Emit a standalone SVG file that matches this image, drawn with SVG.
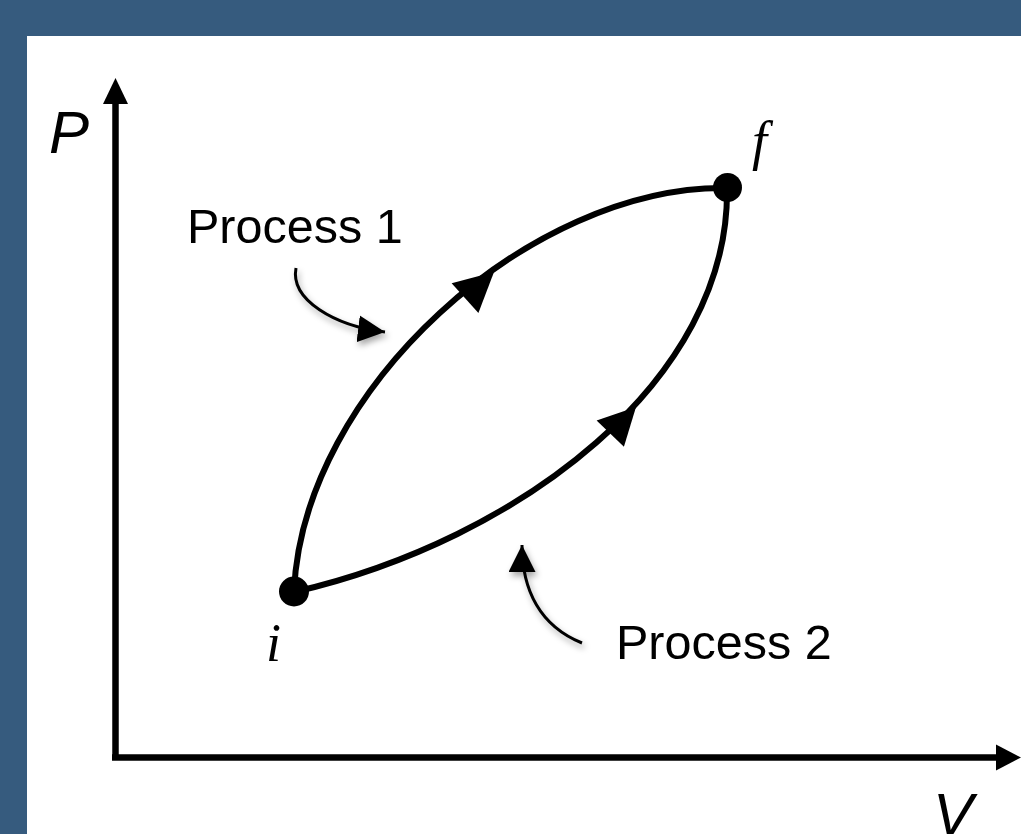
<svg xmlns="http://www.w3.org/2000/svg" xmlns:xlink="http://www.w3.org/1999/xlink" width="1021" height="834" viewBox="0 0 1021 834">
  <style>
    .axis { stroke: #000; stroke-width: 6.5; fill: none; }
    .curve { stroke: #000; stroke-width: 6; fill: none; }
    .pointer { stroke: #000; stroke-width: 3; fill: none; }
    .label { font-family: "Liberation Sans", Arial, sans-serif; font-size: 48.5px; fill: #000; }
    .axislabel { font-family: "Liberation Sans", Arial, sans-serif; font-style: italic; font-size: 60px; fill: #000; }
    .statelabel { font-family: "Liberation Serif", "Times New Roman", serif; font-style: italic; font-size: 54px; fill: #000; }
    .dot { fill: #000; }
  </style>
  <defs>
    <polygon id="head" points="0,0 -39,-20 -39,20" fill="#000"/>
    <marker id="ptr" viewBox="0 0 10 10" refX="10" refY="5" markerWidth="9" markerHeight="9" markerUnits="strokeWidth" orient="auto">
      <path d="M0,0 L10,5 L0,10 Z" fill="#000"/>
    </marker>
    <filter id="shadow" x="-20%" y="-20%" width="140%" height="140%">
      <feDropShadow dx="2" dy="4" stdDeviation="3" flood-color="#000" flood-opacity="0.35"/>
    </filter>
  </defs>

  <rect x="0" y="0" width="1021" height="834" fill="#365b7e"/>
  <rect x="27" y="36" width="994" height="798" fill="#ffffff"/>

  <g id="axes">
    <path class="axis" d="M115.5,757.5 L115.5,100"/>
    <polygon points="115.5,78 103,104 128,104" fill="#000"/>
    <path class="axis" d="M112,757.5 L1000,757.5"/>
    <polygon points="1021,757.5 996,744.5 996,770.5" fill="#000"/>
    <text class="axislabel" x="49" y="153">P</text>
    <text class="axislabel" x="933" y="835">V</text>
  </g>

  <g id="connectors">
    <path id="process1" class="curve" d="M294,592 C302,390 530,185 727,188"/>
    <use xlink:href="#head" href="#head" transform="translate(494,272) rotate(-42)"/>
    <path id="process2" class="curve" d="M294,592 C520,540 730,380 727,188"/>
    <use xlink:href="#head" href="#head" transform="translate(636,407) rotate(-46) scale(0.95)"/>
    <g filter="url(#shadow)">
      <path class="pointer" d="M296,268 C290,300 335,326 385,332" marker-end="url(#ptr)"/>
      <path class="pointer" d="M582,643 C540,626 522,590 522,545" marker-end="url(#ptr)"/>
    </g>
  </g>

  <g id="node-i">
    <circle class="dot" cx="294" cy="591.5" r="15"/>
    <text class="statelabel" x="266" y="661">i</text>
  </g>
  <g id="node-f">
    <circle class="dot" cx="727.5" cy="187.5" r="14.5"/>
    <text class="statelabel" x="752" y="159">f</text>
  </g>
  <g id="label-process1">
    <text class="label" x="187" y="243">Process 1</text>
  </g>
  <g id="label-process2">
    <text class="label" x="616" y="659">Process 2</text>
  </g>
</svg>
